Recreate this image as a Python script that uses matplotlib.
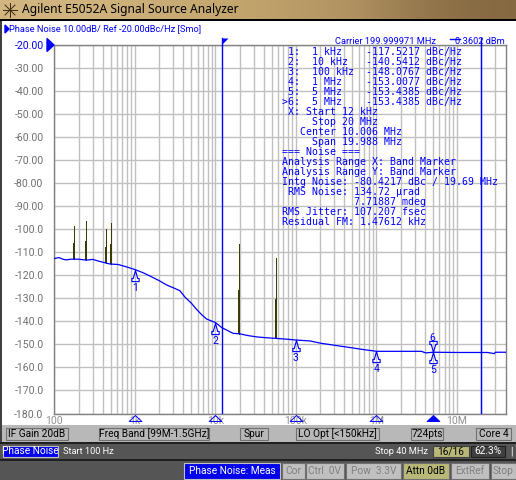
import numpy as np
import matplotlib
matplotlib.use('Agg')
import matplotlib.pyplot as plt
from matplotlib.patches import Rectangle
from matplotlib.path import Path
from matplotlib.ticker import FixedLocator, NullFormatter

# trace
trace_freq = [100, 115, 125, 140, 160, 200, 250, 300, 369, 492, 620, 800, 1000, 1250, 1540,
              2000, 2480, 3000, 3630, 4200, 5000, 5850, 6800, 7800, 10000, 12000, 16600,
              20000, 25700, 33600, 43000, 56800, 75000, 100000, 150000, 204000, 280000,
              363000, 480000, 645000, 1000000, 1500000, 2500000, 3600000, 4100000, 5000000,
              10000000, 18000000, 24000000, 29000000, 30000000, 40000000]
trace_db = [-112.7, -112.3, -112.9, -113.3, -113.0, -113.0, -113.4, -113.1, -114.0, -115.1,
            -115.3, -116.4, -117.5, -118.8, -120.3, -122.3, -124.2, -125.4, -126.7, -129.5,
            -132.0, -134.8, -137.2, -139.0, -140.5, -142.7, -145.2, -145.4, -146.2, -146.8,
            -147.1, -147.4, -147.7, -148.1, -148.5, -149.5, -150.2, -150.8, -151.4, -152.1,
            -153.0, -153.0, -153.0, -153.0, -153.7, -153.4, -153.5, -153.5, -153.5, -154.0,
            -153.4, -153.4]

spur_freq = [177, 250, 442, 500, 19900, 56800]
spur_top = [-98.6, -96.4, -99.9, -97.2, -106.4, -112.6]
spur_mid = [-105.8, -105.0, -107.5, -106.5, -126.4, -130.3]
spur_base = [-113.0, -113.4, -114.6, -115.2, -145.4, -147.4]

marker_freq = [1000, 10000, 100000, 1000000, 5000000, 5000000]
marker_db = [-117.5217, -140.5412, -148.0767, -153.0077, -153.4385, -153.4385]
marker_names = ['1 kHz', '10 kHz', '100 kHz', '1 MHz', '5 MHz', '5 MHz']

band_start = 12000
band_stop = 20000000

y_ticks = [-20, -30, -40, -50, -60, -70, -80, -90, -100, -110, -120, -130, -140, -150, -160, -170, -180]
y_labels = ['-20.00', '-30.00', '-40.00', '-50.00', '-60.00', '-70.00', '-80.00', '-90.00', '-100.0',
            '-110.0', '-120.0', '-130.0', '-140.0', '-150.0', '-160.0', '-170.0', '-180.0']
x_decades = [100, 1000, 10000, 100000, 1000000, 10000000]
x_labels = ['100', '1k', '10k', '100k', '1M', '10M']

info_lines = ['', '', '', '', '', '',
              ' X: Start 12 kHz',
              '     Stop 20 MHz',
              '   Center 10.006 MHz',
              '     Span 19.988 MHz',
              '=== Noise ===',
              'Analysis Range X: Band Marker',
              'Analysis Range Y: Band Marker',
              'Intg Noise: -80.4217 dBc / 19.69 MHz',
              ' RMS Noise: 134.72 \u00b5rad',
              '            7.71887 mdeg',
              'RMS Jitter: 107.207 fsec',
              'Residual FM: 1.47612 kHz']

BLUE = '#0000ff'
GRID = '#c0c0c0'
SPUR = '#3c3c00'
UI = 'Roboto'
W, H = 516, 480

fig = plt.figure(figsize=(W / 100, H / 100), dpi=100, facecolor='white')

# whole window is an overlay in pixel coords
bg = fig.add_axes([0, 0, 1, 1], zorder=0)
bg.set_xlim(0, W)
bg.set_ylim(H, 0)
bg.axis('off')

top = fig.add_axes([0, 0, 1, 1], zorder=5)
top.set_xlim(0, W)
top.set_ylim(H, 0)
top.axis('off')
top.patch.set_alpha(0)


def box(x0, x1, y0, y1, color, ax=bg, **kw):
    ax.add_patch(Rectangle((x0, y0), x1 - x0, y1 - y0, facecolor=color, edgecolor='none', **kw))


def button(x0, x1, y0, y1, label, fc='#b8b8b8', tc='black', ec='#707070'):
    top.add_patch(Rectangle((x0, y0), x1 - x0, y1 - y0, facecolor=fc, edgecolor=ec, lw=0.8))
    top.text((x0 + x1) / 2, (y0 + y1) / 2, label, color=tc, fontsize=7.3, family=UI, ha='center', va='center')


# title bar
grad = np.array([[0.0, 0.25, 0.55, 1.0]])
cm = matplotlib.colors.LinearSegmentedColormap.from_list('t', ['#d2b580', '#c4a66e', '#b09262', '#846840'])
bg.imshow(grad, extent=(0, W, 19, 0), aspect='auto', cmap=cm, interpolation='bicubic', zorder=1)
bg.set_xlim(0, W)
bg.set_ylim(H, 0)
box(0, W, 19, 21, 'black', zorder=2)
box(0, 2, 21, H, '#404040', zorder=2)
for a in np.arange(0, 360, 45):
    bg.plot([10, 10 + 7 * np.cos(np.radians(a))], [10, 10 + 7 * np.sin(np.radians(a))], color='#3a2a10', lw=0.7, zorder=3)
top.text(22, 10, 'Agilent E5052A Signal Source Analyzer', fontsize=8.7, fontweight='bold', family='Noto Sans', color='black', va='center')

# bottom bars
box(2, W, 425, 442, '#b8b8b8', zorder=2)
box(0, W, 442, 444, '#202020', zorder=2)
box(0, W, 444, 459, '#555555', zorder=2)
box(0, W, 459, 461, '#202020', zorder=2)
box(0, W, 461, H, '#555555', zorder=2)

# main plot
ax = fig.add_axes([54.3 / W, 1 - 413.5 / H, (505.5 - 54.3) / W, (413.5 - 45) / H], zorder=2)
ax.set_xscale('log')
ax.set_xlim(100, 40000000)
ax.set_ylim(-180, -20)
ax.patch.set_alpha(0)
minor = [m * d for d in [100, 1000, 10000, 100000, 1000000, 10000000] for m in range(2, 10) if m * d < 40000000]
ax.xaxis.set_major_locator(FixedLocator(x_decades))
ax.xaxis.set_minor_locator(FixedLocator(minor))
ax.xaxis.set_minor_formatter(NullFormatter())
ax.set_xticks(x_decades, x_labels)
ax.set_yticks(y_ticks, y_labels)
ax.grid(True, which='both', color=GRID, lw=1.0)
ax.set_axisbelow(True)
ax.tick_params(which='both', length=0)
ax.tick_params(axis='x', labelsize=7.6, labelcolor='#909090', pad=2)
ax.tick_params(axis='y', labelsize=7.6, labelcolor='#707070', pad=7.8)
ax.get_yticklabels()[0].set_color(BLUE)
for lab in ax.get_xticklabels() + ax.get_yticklabels():
    lab.set_family(UI)
for s in ax.spines.values():
    s.set_color('#808080')
    s.set_linewidth(1.0)

ax.vlines(spur_freq, spur_base, spur_top, color=SPUR, lw=0.72, zorder=3, antialiased=False)
ax.vlines(spur_freq, spur_base, spur_mid, color=SPUR, lw=1.44, zorder=3, antialiased=False)
ax.plot(trace_freq, trace_db, color=BLUE, lw=0.9, zorder=4)

# band markers run from the flag above the plot to the bottom
flag_y = 1.019
for f in [band_start, band_stop]:
    ax.axvline(f, color=BLUE, lw=1.0, zorder=4)
    ax.plot([f, f], [1.0, flag_y], transform=ax.get_xaxis_transform(), color=BLUE, lw=1.0, clip_on=False, zorder=4)
ax.plot([band_start], [flag_y], transform=ax.get_xaxis_transform(), marker=Path([(0, 0), (1, 0), (0, -1), (0, 0)]),
        ms=8.6, mew=0, color=BLUE, clip_on=False, zorder=5)

# marker glyphs: apex on the trace
up = Path([(0, 0), (-0.2, -0.72), (-0.33, -0.72), (-0.33, -1), (0.33, -1), (0.33, -0.72), (0.2, -0.72), (0, 0)])
down = Path([(0, 0), (-0.2, 0.72), (-0.33, 0.72), (-0.33, 1), (0.33, 1), (0.33, 0.72), (0.2, 0.72), (0, 0)])
for i, (f, d) in enumerate(zip(marker_freq, marker_db)):
    is_top = i == 5
    ax.plot([f], [d], marker=down if is_top else up, ms=16, mfc='none', mec=BLUE, mew=0.8, zorder=6)
    ax.annotate(str(i + 1), (f, d), xytext=(0, 10 if is_top else -13), textcoords='offset points', color=BLUE,
                fontsize=7.6, family=UI, ha='center', va='center', zorder=6)

# small triangles under the axis
tri = Path([(0, 0.47), (-1, -0.47), (1, -0.47), (0, 0.47)])
for i, f in enumerate(marker_freq[:5]):
    filled = i == 4
    ax.plot([f], [-0.012], transform=ax.get_xaxis_transform(), marker=tri, ms=9.1, clip_on=False,
            mfc=BLUE if filled else 'none', mec=BLUE, mew=0.7, zorder=6)

# reference level arrow
top.add_patch(plt.Polygon([(47, 38.5), (54, 45), (47, 51.5)], color=BLUE))

top.text(9, 29, 'Phase Noise 10.00dB/ Ref -20.00dBc/Hz [Smo]', color=BLUE, fontsize=6.7, family=UI, va='center')
top.add_patch(plt.Polygon([(5, 25), (9, 29), (5, 33)], color=BLUE))
top.text(335, 41, 'Carrier 199.999971 MHz', color=BLUE, fontsize=6.7, family=UI, va='center')
top.plot([450, 460], [38.5, 38.5], color=BLUE, lw=1.0)
top.text(505, 41, '0.3602 dBm', color=BLUE, fontsize=6.7, family=UI, va='center', ha='right')

# marker table
mono = 'DejaVu Sans Mono'
for i, (name, d) in enumerate(zip(marker_names, marker_db)):
    lead = '>' if i == 5 else ' '
    line = '%s%d:  %-8s %.4f dBc/Hz' % (lead, i + 1, name, d)
    top.text(282, 52 + 10 * i, line, color=BLUE, fontsize=7.1, family=mono, va='center')
for i, line in enumerate(info_lines):
    if line:
        top.text(282, 52 + 10 * i, line, color=BLUE, fontsize=7.1, family=mono, va='center')

# softkeys
button(6, 68, 428, 440, 'IF Gain 20dB')
button(99, 209, 428, 440, 'Freq Band [99M-1.5GHz]')
button(240, 268, 428, 440, 'Spur')
button(296, 379, 428, 440, 'LO Opt [<150kHz]')
button(411, 443, 428, 440, '724pts')
button(476, 511, 428, 440, 'Core 4')

button(3, 58, 446, 457, 'Phase Noise', fc='#0000ee', tc='white', ec='#c0c0c0')
top.text(63, 451.5, 'Start 100 Hz', color='white', fontsize=6.7, family=UI, va='center')
top.text(428, 451.5, 'Stop 40 MHz', color='white', fontsize=6.7, family=UI, va='center', ha='right')
button(433, 469, 446, 457, '16/16', fc='#b8b878', ec='#404040')
button(471, 505, 446, 457, '62.3%', fc='#404040', tc='white', ec='#202020')
top.text(510, 451.5, '|', color='white', fontsize=7.3, family=UI, va='center')

button(184, 280, 463, 479, 'Phase Noise: Meas', fc='#0000ee', tc='white', ec='#c0c0c0')
button(282, 305, 463, 479, 'Cor', tc='#808080', fc='#c0c0c0')
button(306, 344, 463, 479, 'Ctrl  0V', tc='#808080', fc='#c0c0c0')
button(346, 401, 463, 479, 'Pow  3.3V', tc='#808080', fc='#c0c0c0')
button(403, 449, 463, 479, 'Attn 0dB', fc='#b8b878')
button(451, 489, 463, 479, 'ExtRef', tc='#808080', fc='#c0c0c0')
button(491, 516, 463, 479, 'Stop', tc='#808080', fc='#c0c0c0')

fig.savefig('out.png', dpi=100)
